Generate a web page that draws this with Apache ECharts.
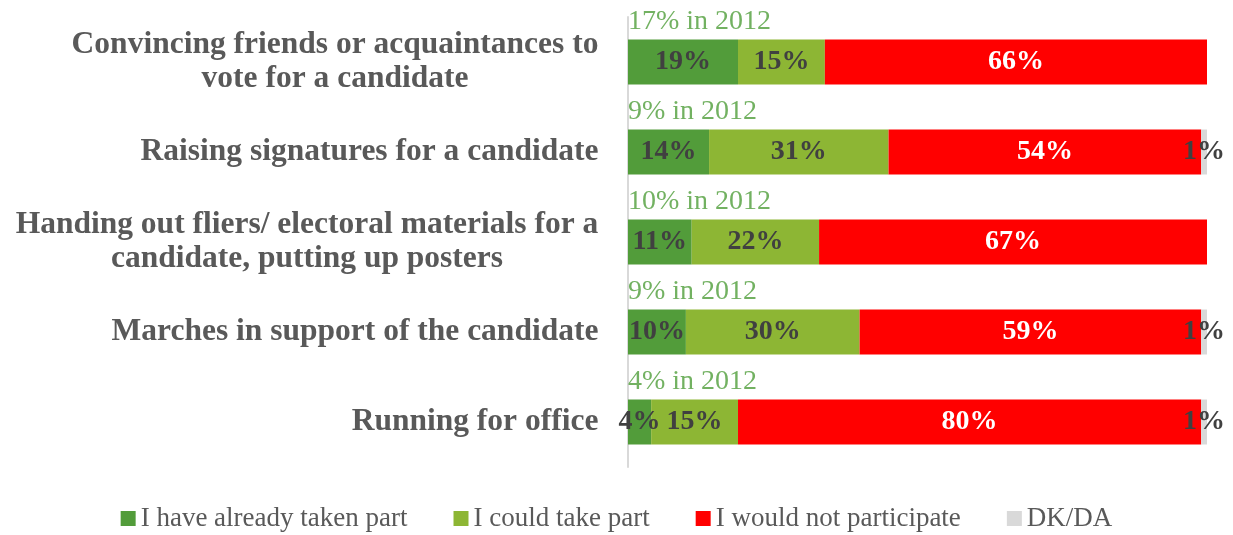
<!DOCTYPE html>
<html><head><meta charset="utf-8">
<script src="https://cdn.jsdelivr.net/npm/echarts@6/dist/echarts.min.js"></script>
<style>html,body{margin:0;padding:0;background:#fff}#c{width:1233px;height:535px}</style>
</head><body><div id="c"></div>
<script>
const categories = [
  'Convincing friends or acquaintances to\nvote for a candidate',
  'Raising signatures for a candidate',
  'Handing out fliers/ electoral materials for a\ncandidate, putting up posters',
  'Marches in support of the candidate',
  'Running for office'
];
const alreadyTaken = [19, 14, 11, 10, 4];
const couldTake = [15, 31, 22, 30, 15];
const wouldNot = [66, 54, 67, 59, 80];
const dkda = [0, 1, 0, 1, 1];
const in2012 = ['17% in 2012', '9% in 2012', '10% in 2012', '9% in 2012', '4% in 2012'];
const seriesNames = ['I have already taken part', 'I could take part', 'I would not participate', 'DK/DA'];
const colors = ['#529C3A', '#8DB634', '#FF0000', '#D9D9D9'];

const FONT = '"Liberation Serif", "DejaVu Serif", serif';
const CAT_SIZE = 31.5;
const chart = echarts.init(document.getElementById('c'));

// measure category lines so multi-line labels are centred inside a right-anchored block
const ctx = document.createElement('canvas').getContext('2d');
ctx.font = 'bold ' + CAT_SIZE + 'px "Liberation Serif"';
const rich = {};
categories.forEach((c, i) => {
  const w = Math.max(...c.split('\n').map(l => ctx.measureText(l).width));
  rich['c' + i] = {
    width: Math.ceil(w) + 1, align: 'center', color: '#595959',
    fontFamily: FONT, fontWeight: 'bold', fontSize: CAT_SIZE, lineHeight: 34
  };
});

function barSeries(name, data, color, labelColor) {
  return {
    name, type: 'bar', stack: 'total', data, barWidth: 45,
    itemStyle: { color },
    label: {
      show: true, position: 'inside', color: labelColor,
      fontFamily: FONT, fontWeight: 'bold', fontSize: 28,
      formatter: p => p.value > 0 ? p.value + '%' : ''
    },
    emphasis: { disabled: true }
  };
}

chart.setOption({
  animation: false,
  grid: { left: 628, right: 26, top: 17, height: 450 },
  xAxis: { type: 'value', min: 0, max: 100, show: false },
  yAxis: {
    type: 'category', data: categories, inverse: true,
    axisLine: { show: true, lineStyle: { color: '#D9D9D9', width: 2 } },
    axisTick: { show: false },
    axisLabel: {
      margin: 29, color: '#595959', fontFamily: FONT, fontWeight: 'bold',
      fontSize: CAT_SIZE, lineHeight: 34, align: 'right',
      formatter: (v, i) => v.split('\n').map(l => '{c' + i + '|' + l + '}').join('\n'),
      rich
    }
  },
  legend: {
    top: 505, left: 'center', itemWidth: 15, itemHeight: 15, itemGap: 46,
    icon: 'rect', padding: 0,
    textStyle: { fontFamily: FONT, fontSize: 27, color: '#595959' },
    data: seriesNames
  },
  series: [
    barSeries(seriesNames[0], alreadyTaken, colors[0], '#404040'),
    barSeries(seriesNames[1], couldTake, colors[1], '#404040'),
    barSeries(seriesNames[2], wouldNot, colors[2], '#FFFFFF'),
    barSeries(seriesNames[3], dkda, colors[3], '#404040'),
    {
      type: 'scatter', symbolSize: 0, silent: true,
      data: categories.map((c, i) => [0, i]),
      label: {
        show: true, position: 'right', distance: 0, offset: [0, -40],
        color: '#4F9D3A', fontFamily: FONT, fontSize: 28,
        formatter: p => in2012[p.dataIndex]
      }
    }
  ]
});
</script></body></html>
